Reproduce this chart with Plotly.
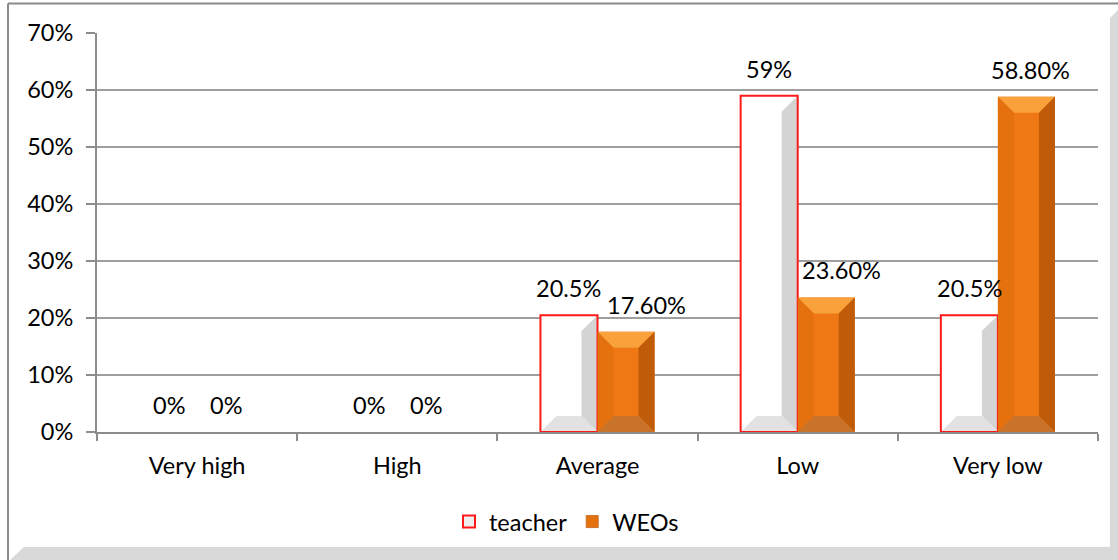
import plotly.graph_objects as go

# Chart data
categories = ["Very high", "High", "Average", "Low", "Very low"]
teacher = [0, 0, 20.5, 59, 20.5]
weos = [0, 0, 17.6, 23.6, 58.8]
teacher_labels = ["0%", "0%", "20.5%", "59%", "20.5%"]
weos_labels = ["0%", "0%", "17.60%", "23.60%", "58.80%"]
y_ticks = [0, 10, 20, 30, 40, 50, 60, 70]
y_tick_text = ["0%", "10%", "20%", "30%", "40%", "50%", "60%", "70%"]

FONT = "Lato"
FS = 23.5
BAR_W = 0.285          # width of one bar in category units
BX = 0.08              # bevel width in x units
BY = 2.8               # bevel height in y units
RED = "#ff1a1a"
ORANGE = "#f07814"

x_idx = list(range(len(categories)))
x_teacher = [i - BAR_W / 2 for i in x_idx]
x_weos = [i + BAR_W / 2 for i in x_idx]

fig = go.Figure()

fig.add_trace(go.Bar(
    name="teacher", x=x_teacher, y=teacher, width=BAR_W,
    marker=dict(color="white", line=dict(width=0)),
    showlegend=False, hoverinfo="skip",
))
fig.add_trace(go.Bar(
    name="WEOs", x=x_weos, y=weos, width=BAR_W,
    marker=dict(color=ORANGE, line=dict(width=0)),
    showlegend=False, hoverinfo="skip",
))


def facet(xs, ys, color):
    fig.add_trace(go.Scatter(
        x=xs + [xs[0]], y=ys + [ys[0]], mode="lines", fill="toself",
        fillcolor=color, line=dict(width=0, color=color),
        showlegend=False, hoverinfo="skip",
    ))


def bevel(xc, v, colors):
    if v <= 0:
        return
    xl, xr = xc - BAR_W / 2, xc + BAR_W / 2
    top_c, left_c, right_c, bottom_c = colors
    if top_c:
        facet([xl, xr, xr - BX, xl + BX], [v, v, v - BY, v - BY], top_c)
    if left_c:
        facet([xl, xl, xl + BX, xl + BX], [0, v, v - BY, BY], left_c)
    if right_c:
        facet([xr, xr, xr - BX, xr - BX], [0, v, v - BY, BY], right_c)
    if bottom_c:
        facet([xl, xr, xr - BX, xl + BX], [0, 0, BY, BY], bottom_c)


for xc, v in zip(x_teacher, teacher):
    bevel(xc, v, (None, None, "#d4d4d4", "#e2e2e2"))
    if v > 0:
        xl, xr = xc - BAR_W / 2, xc + BAR_W / 2
        fig.add_trace(go.Scatter(
            x=[xl, xr, xr, xl, xl], y=[0, 0, v, v, 0], mode="lines",
            line=dict(color=RED, width=2),
            showlegend=False, hoverinfo="skip",
        ))

for xc, v in zip(x_weos, weos):
    bevel(xc, v, ("#f9a13b", "#e4700e", "#bf5b09", "#c8722a"))

# Legend entries
fig.add_trace(go.Bar(name="teacher", x=[None], y=[None],
                     marker=dict(color="#eeeeee", line=dict(color=RED, width=2))))
fig.add_trace(go.Bar(name="WEOs", x=[None], y=[None],
                     marker=dict(color="#e4700e", line=dict(color="#c8722a", width=1))))

# Value labels above each bar
label_xshift = {("weos", 2): 20, ("weos", 3): 15, ("weos", 4): 4}
for i, (xc, v, t) in enumerate(zip(x_teacher, teacher, teacher_labels)):
    fig.add_annotation(x=xc, y=v, text=t, showarrow=False, yshift=27,
                       xshift=label_xshift.get(("teacher", i), 0),
                       font=dict(family=FONT, size=FS, color="black"))
for i, (xc, v, t) in enumerate(zip(x_weos, weos, weos_labels)):
    fig.add_annotation(x=xc, y=v, text=t, showarrow=False, yshift=27,
                       xshift=label_xshift.get(("weos", i), 0),
                       font=dict(family=FONT, size=FS, color="black"))

# Chart frame and drop shadow (paper coordinates)
L, R, T, B = 97, 1098, 33, 432


def px(x):
    return (x - L) / (R - L)


def py(y):
    return (B - y) / (B - T)


shadow = "#d9d9d9"
fig.add_shape(type="path", xref="paper", yref="paper", layer="below",
              path=(f"M {px(10)} {py(560)} L {px(24)} {py(547)} L {px(1110)} {py(547)} "
                    f"L {px(1110)} {py(18)} L {px(1118)} {py(10)} L {px(1118)} {py(560)} Z"),
              fillcolor=shadow, line=dict(width=0))
fig.add_shape(type="line", xref="paper", yref="paper",
              x0=px(8), x1=px(1118), y0=py(3.5), y1=py(3.5),
              line=dict(color="#8a8a8a", width=2))
fig.add_shape(type="line", xref="paper", yref="paper",
              x0=px(8), x1=px(8), y0=py(3.5), y1=py(560),
              line=dict(color="#8a8a8a", width=2))

fig.update_layout(
    width=1118, height=560,
    margin=dict(l=L, r=1118 - R, t=T, b=560 - B),
    paper_bgcolor="white", plot_bgcolor="white",
    barmode="overlay",
    font=dict(family=FONT, size=FS, color="black"),
    showlegend=True,
    legend=dict(orientation="h", x=px(449), xanchor="left", y=-0.17, yanchor="top",
                font=dict(family=FONT, size=FS), itemwidth=30,
                bgcolor="rgba(0,0,0,0)", traceorder="normal"),
    xaxis=dict(
        range=[-0.5, 4.5], tickvals=x_idx, ticktext=categories,
        ticks="", showgrid=False, zeroline=False,
        showline=True, linecolor="#8c8c8c", linewidth=2,
        minor=dict(tickvals=[-0.5, 0.5, 1.5, 2.5, 3.5, 4.5], ticks="outside",
                   ticklen=7, tickcolor="#8c8c8c", tickwidth=2, showgrid=False),
        tickfont=dict(family=FONT, size=FS),
        ticklabelstandoff=12,
    ),
    yaxis=dict(
        range=[0, 70], tickvals=y_ticks, ticktext=y_tick_text,
        showgrid=True, gridcolor="#9e9e9e", gridwidth=2,
        zeroline=False, showline=True, linecolor="#8c8c8c", linewidth=2,
        ticks="outside", ticklen=9, tickcolor="#8c8c8c", tickwidth=2,
        tickfont=dict(family=FONT, size=FS),
        ticklabelstandoff=8,
    ),
)

fig.write_html("out.html")
